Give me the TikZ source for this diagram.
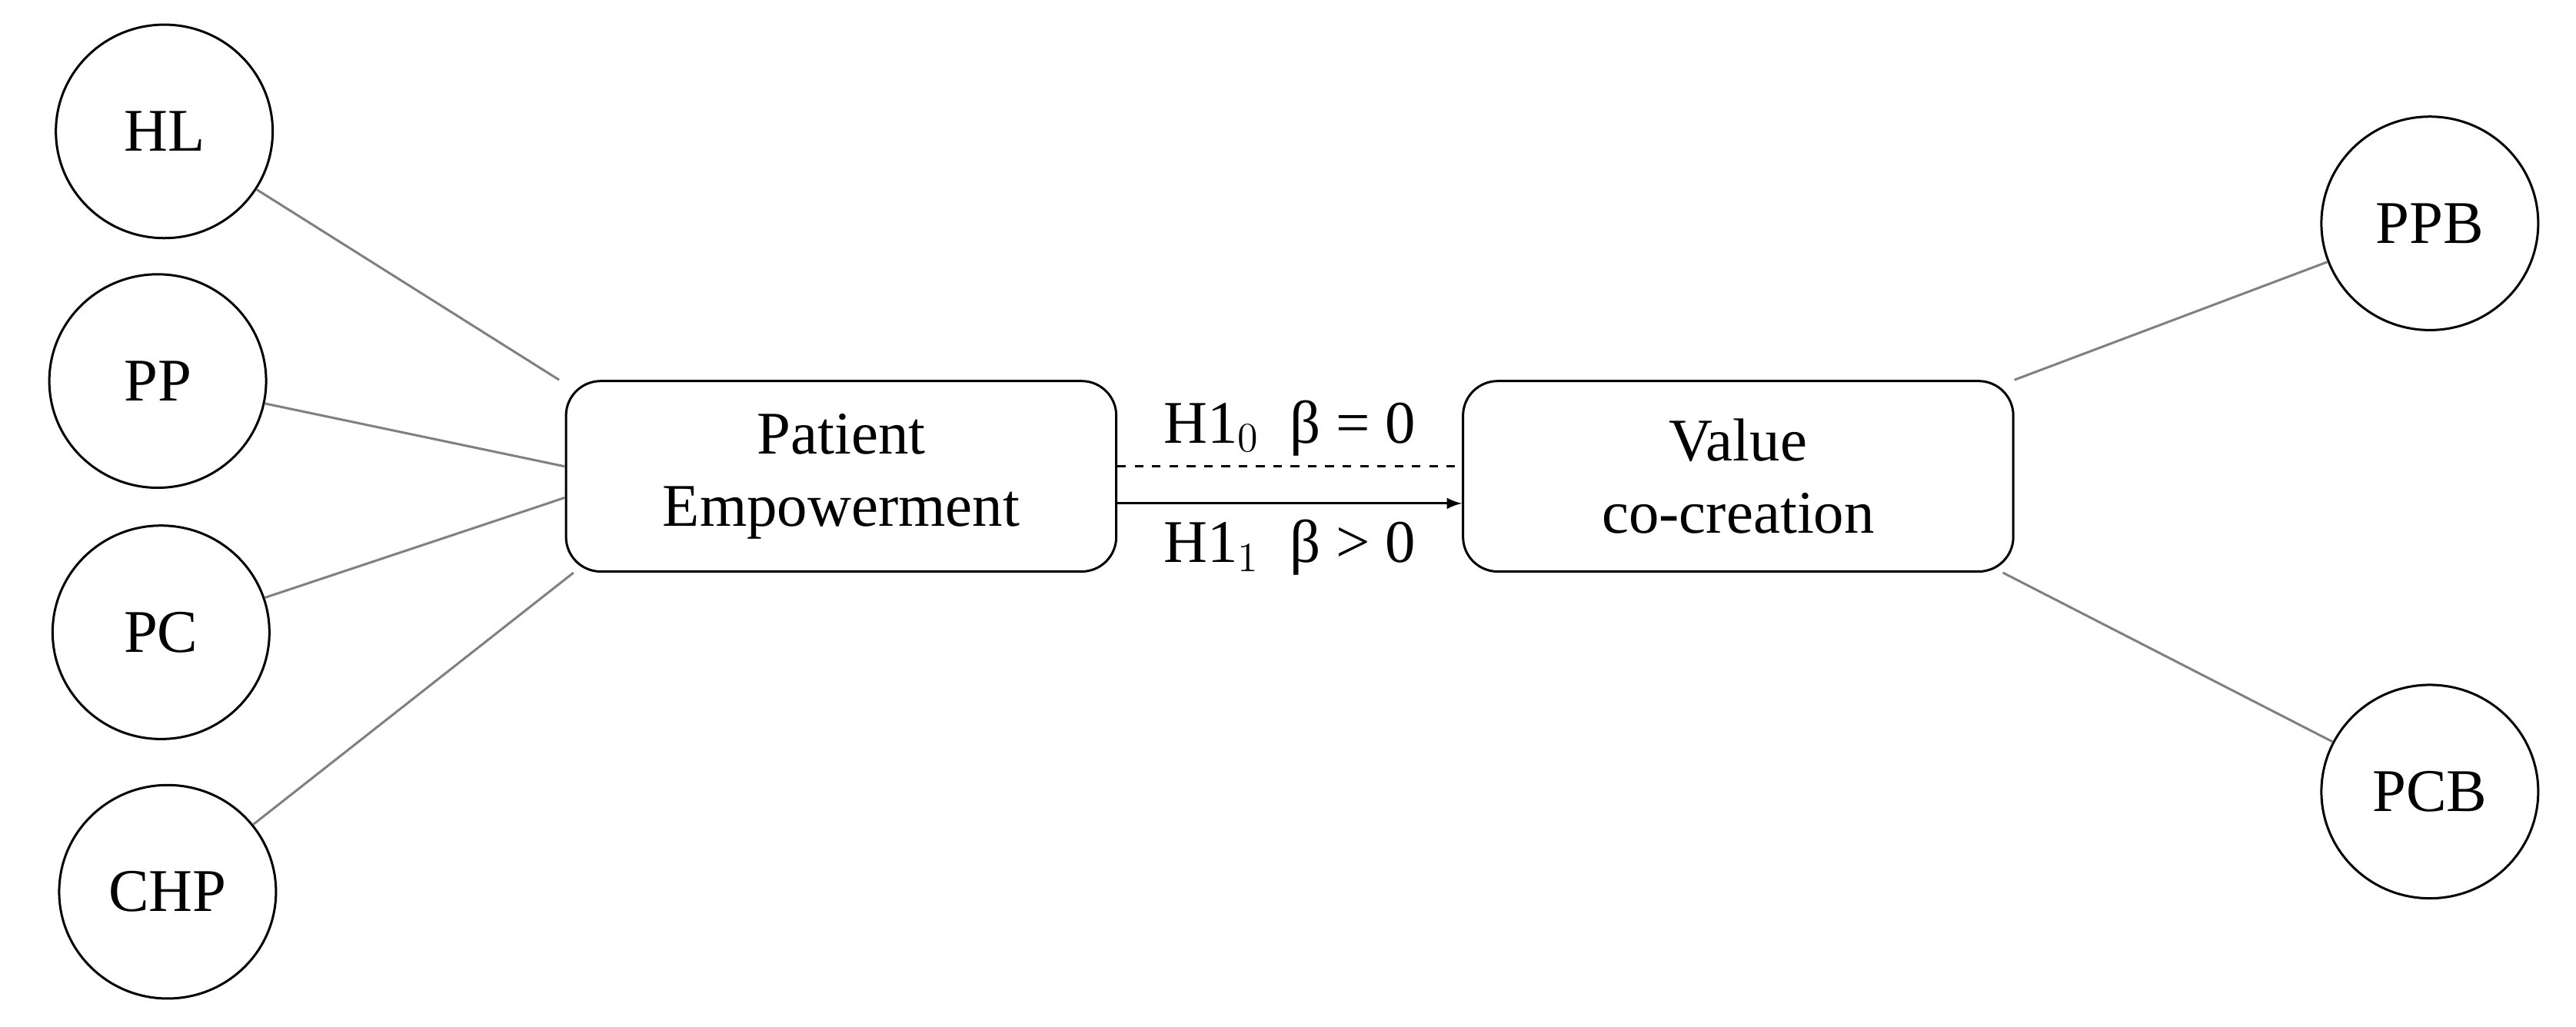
\documentclass[tikz,border=0pt]{standalone}
\usepackage{fontspec}
\setmainfont{Liberation Serif}
\usetikzlibrary{shapes.geometric}
\begin{document}
\begin{tikzpicture}[x=0.02cm,y=-0.02cm,
    latent/.style={draw, thick, ellipse, minimum width=2.64cm, minimum height=2.6cm, font=\fontsize{21}{25}\selectfont},
    construct/.style={draw, thick, rounded corners=12pt, minimum width=6.7cm, minimum height=2.32cm, align=center, font=\fontsize{21}{25}\selectfont},
    link/.style={gray, thick}]
  \useasboundingbox (0,0) rectangle (1568,625);
  % indicators
  \node[latent] (HL) at (100,80) {HL};
  \node[latent] (PP) at (96,232) {PP};
  \node[latent] (PC) at (98,385) {PC};
  \node[latent] (CHP) at (102,543) {CHP};
  \node[latent] (PPB) at (1479,136) {PPB};
  \node[latent] (PCB) at (1479,482) {PCB};
  % constructs
  \node[construct] (pe) at (512,290) {Patient\\Empowerment};
  \node[construct] (vc) at (1058,290) {Value\\co-creation};
  \coordinate (peHL) at ([xshift=-2pt]pe.north west);
  \coordinate (pePP) at ([yshift=-30pt]pe.north west);
  \coordinate (pePC) at ([yshift=26pt]pe.south west);
  \coordinate (peCHP) at ([xshift=3pt]pe.south west);
  \foreach \c in {HL, PP, PC, CHP}
    \draw[link] (\c) -- (pe\c);
  \draw[link] (vc.north east) -- (PPB);
  \draw[link] ([xshift=-4pt]vc.south east) -- (PCB);
  % hypotheses
  \draw[thick, dashed] ([yshift=-30pt]pe.north east) -- ([yshift=-30pt]vc.north west)
    node[pos=0.5, above=0pt, font=\fontsize{21}{25}\selectfont] (h0) {H1$_0$\enspace β = 0};
  \draw[thick, -latex] ([yshift=24pt]pe.south east) -- ([yshift=24pt]vc.south west)
    node[pos=0.5, below=2pt, font=\fontsize{21}{25}\selectfont] (h1) {H1$_1$\enspace β > 0};
\end{tikzpicture}
\end{document}
